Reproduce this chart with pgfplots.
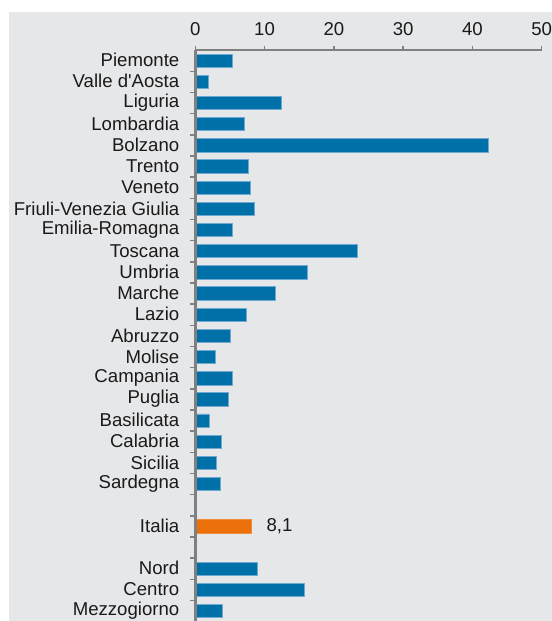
\documentclass[border=0pt]{standalone}
\usepackage{pgfplots}
\pgfplotsset{compat=1.18}
\usepackage{fontspec}
\setmainfont{Liberation Sans}
\definecolor{barblue}{RGB}{0,112,168}
\definecolor{baredge}{RGB}{110,170,210}
\definecolor{barorange}{RGB}{235,112,10}
\definecolor{bggray}{RGB}{230,231,233}
\definecolor{axisgray}{RGB}{128,128,128}
\definecolor{txt}{RGB}{26,26,26}
\begin{document}
\begin{tikzpicture}[x=1bp,y=1bp]
\path[use as bounding box] (-195.3,0.7) rectangle (356.7,621.7);
\fill[bggray] (-186.3,0.7) rectangle (356.7,609.7);
\begin{axis}[
    at={(0,0)}, anchor=south west,
    scale only axis, width=346.4bp, height=571.6bp,
    xmin=0, xmax=50, ymin=-0.5, ymax=26.5,
    axis x line=top, axis y line=left,
    axis line style={-, draw=axisgray},
    x axis line style={line width=2.2bp},
    y axis line style={line width=3bp},
    axis on top,
    tick align=outside,
    xtick={0,10,...,50},
    major tick length=4bp,
    xtick style={draw=axisgray, line width=1.5bp},
    ytick={0,...,26},
    ytick style={draw=none},
    minor ytick={-0.5,0.5,...,25.5},
    minor tick length=5bp,
    minor y tick style={draw=axisgray, line width=1.5bp},
    yticklabels={Mezzogiorno, Centro, Nord, {}, Italia, {}, Sardegna, Sicilia,
        Calabria, Basilicata, Puglia, Campania, Molise, Abruzzo, Lazio, Marche,
        Umbria, Toscana, Emilia-Romagna, Friuli-Venezia Giulia, Veneto, Trento,
        Bolzano, Lombardia, Liguria, Valle d\textquotesingle Aosta, Piemonte},
    /pgf/number format/assume math mode=true,
    tick label style={font=\fontsize{18.6bp}{20bp}\selectfont, text=txt},
    yticklabel style={xshift=-8.5bp, yshift=0.5bp},
    xticklabel style={yshift=6.5bp},
    xbar, bar shift=0pt, bar width=0.63,
]
% regions and macro-areas, top to bottom
\addplot[fill=barblue, draw=baredge, line width=0.8bp] coordinates {
    (5.3,26) (1.9,25) (12.5,24) (7.1,23) (42.3,22) (7.6,21) (8.0,20) (8.6,19)
    (5.3,18) (23.4,17) (16.2,16) (11.5,15) (7.4,14) (5.1,13) (2.9,12) (5.4,11)
    (4.8,10) (2.0,9) (3.8,8) (3.0,7) (3.6,6)
    (8.9,2) (15.7,1) (3.9,0)
};
% Italia
\addplot[fill=barorange, draw=barorange!80!white, line width=0.8bp,
    nodes near coords={8,1},
    every node near coord/.append style={font=\fontsize{18.6bp}{20bp}\selectfont,
        text=txt, anchor=west, xshift=11.5bp}]
    coordinates {(8.1,4)};
\end{axis}
\end{tikzpicture}
\end{document}
